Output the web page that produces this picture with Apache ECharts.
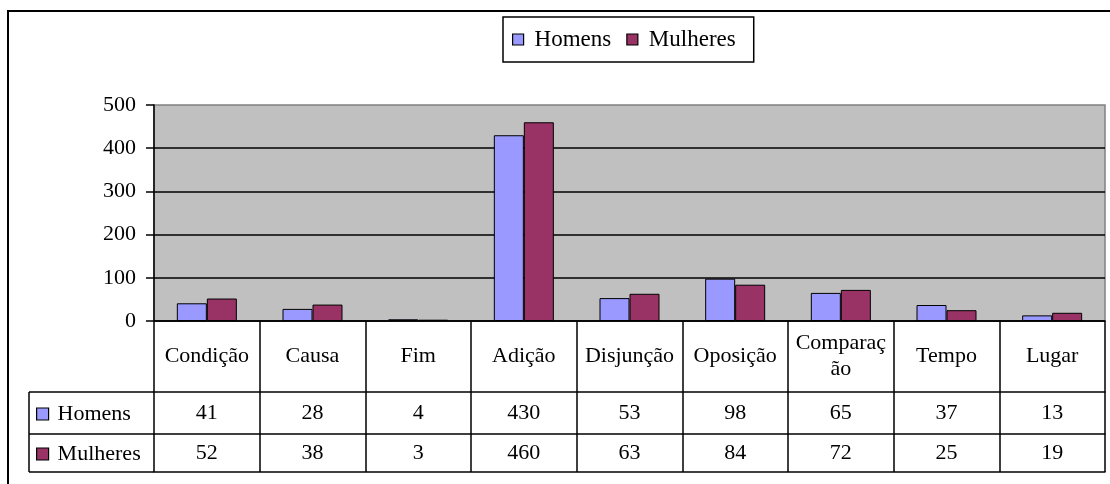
<!DOCTYPE html>
<html>
<head>
<meta charset="utf-8">
<script src="https://cdn.jsdelivr.net/npm/echarts@6/dist/echarts.min.js"></script>
<style>
  html, body { margin: 0; padding: 0; background: #fff; }
  #chart { width: 1110px; height: 484px; }
</style>
</head>
<body>
<div id="chart"></div>
<script>
// dados
const categorias = ['Condição', 'Causa', 'Fim', 'Adição', 'Disjunção', 'Oposição', 'Comparação', 'Tempo', 'Lugar']
const rotulos = ['Condição', 'Causa', 'Fim', 'Adição', 'Disjunção', 'Oposição', 'Comparaç\não', 'Tempo', 'Lugar']
const homens = [41, 28, 4, 430, 53, 98, 65, 37, 13]
const mulheres = [52, 38, 3, 460, 63, 84, 72, 25, 19]
const yTicks = [0, 100, 200, 300, 400, 500]

const fonte = 'Liberation Serif'
const linha = { color: '#000', width: 1.5 }

let myChart = echarts.init(document.getElementById('chart'))

// eixos x extras = linhas da tabela de dados
const linhaTabela = (offset, altura, margem, valores) => ({
  type: 'category',
  position: 'bottom',
  offset: offset,
  data: categorias,
  axisLine: { show: true, lineStyle: linha },
  axisTick: { show: true, length: altura, interval: 0, lineStyle: linha },
  axisLabel: valores ? {
    interval: 0,
    margin: margem,
    verticalAlign: 'middle',
    fontFamily: fonte,
    fontSize: 22,
    color: '#000',
    formatter: (v, i) => String(valores[i])
  } : { show: false }
})

myChart.setOption({
  animation: false,
  color: ['#9999FF', '#993366'],
  legend: [
    {
      data: ['Homens', 'Mulheres'],
      left: 503,
      top: 17,
      padding: [11, 18, 11, 9],
      itemGap: 15,
      itemWidth: 11,
      itemHeight: 11,
      icon: 'rect',
      borderColor: '#000',
      borderWidth: 1.5,
      itemStyle: { borderColor: '#000', borderWidth: 1.2 },
      textStyle: { fontFamily: fonte, fontSize: 23, color: '#000', padding: [0, 0, 0, 6] }
    },
    {
      data: ['Homens', 'Mulheres'],
      orient: 'vertical',
      left: 36,
      top: 403,
      itemGap: 18,
      itemWidth: 12,
      itemHeight: 12,
      padding: 0,
      icon: 'rect',
      selectedMode: false,
      itemStyle: { borderColor: '#000', borderWidth: 1.2 },
      textStyle: { fontFamily: fonte, fontSize: 22, color: '#000', lineHeight: 20, padding: [0, 0, 0, 4] }
    }
  ],
  grid: {
    left: 154,
    right: 5,
    top: 105,
    bottom: 163,
    show: true,
    backgroundColor: '#C0C0C0',
    borderColor: '#808080',
    borderWidth: 1.5
  },
  xAxis: [
    {
      type: 'category',
      data: categorias,
      axisLine: { show: true, lineStyle: linha },
      axisTick: { show: true, length: 71, interval: 0, lineStyle: linha },
      axisLabel: {
        interval: 0,
        margin: 35,
        verticalAlign: 'middle',
        fontFamily: fonte,
        fontSize: 22,
        lineHeight: 26,
        color: '#000',
        formatter: (v, i) => rotulos[i]
      }
    },
    linhaTabela(71, 42, 21, homens),
    linhaTabela(113, 38, 19, mulheres),
    linhaTabela(151, 0, 0, null)
  ],
  yAxis: {
    type: 'value',
    min: yTicks[0],
    max: yTicks[yTicks.length - 1],
    interval: 100,
    axisLine: { show: true, lineStyle: linha },
    axisTick: { show: true, length: 8, lineStyle: linha },
    splitLine: { show: true, showMaxLine: false, lineStyle: linha },
    axisLabel: { margin: 18, fontFamily: fonte, fontSize: 22, color: '#000' }
  },
  graphic: [
    // moldura externa
    { type: 'rect', shape: { x: 8, y: 11, width: 1200, height: 600 }, style: { fill: 'none', stroke: '#000', lineWidth: 2 }, silent: true },
    // coluna da legenda na tabela
    { type: 'line', shape: { x1: 29, y1: 392, x2: 154, y2: 392 }, style: { stroke: '#000', lineWidth: 1.5 } },
    { type: 'line', shape: { x1: 29, y1: 434, x2: 154, y2: 434 }, style: { stroke: '#000', lineWidth: 1.5 } },
    { type: 'line', shape: { x1: 29, y1: 472, x2: 154, y2: 472 }, style: { stroke: '#000', lineWidth: 1.5 } },
    { type: 'line', shape: { x1: 29, y1: 392, x2: 29, y2: 472 }, style: { stroke: '#000', lineWidth: 1.5 } }
  ],
  series: [
    {
      name: 'Homens',
      type: 'bar',
      barWidth: 30,
      barGap: '0%',
      itemStyle: { borderColor: '#000', borderWidth: 1 },
      data: homens
    },
    {
      name: 'Mulheres',
      type: 'bar',
      barWidth: 30,
      barGap: '0%',
      itemStyle: { borderColor: '#000', borderWidth: 1 },
      data: mulheres
    }
  ]
})
</script>
</body>
</html>
